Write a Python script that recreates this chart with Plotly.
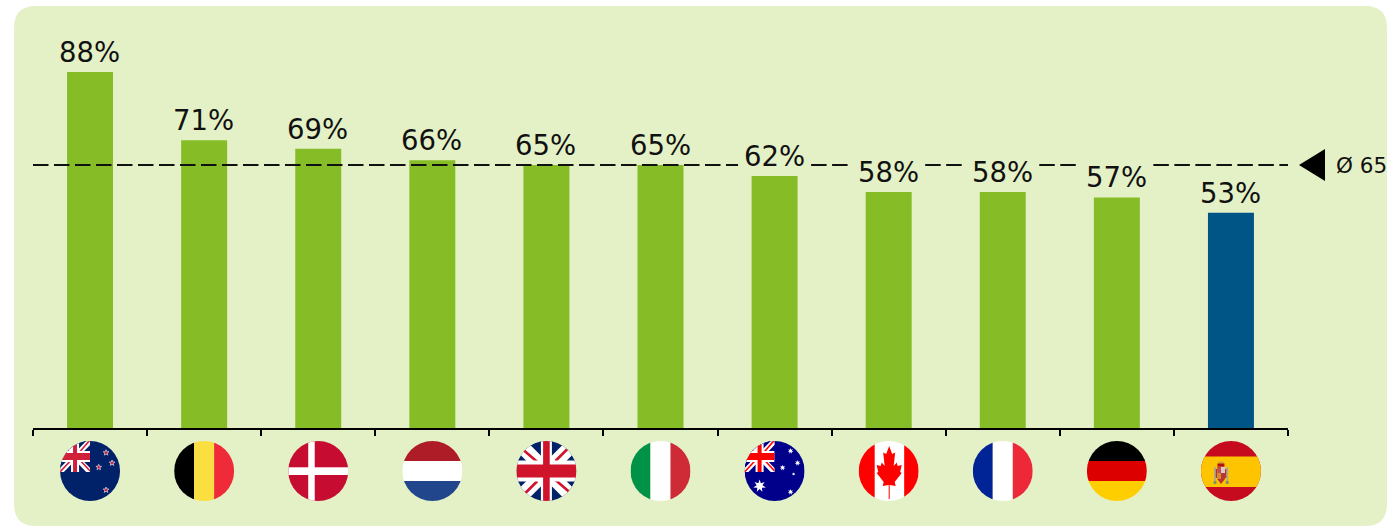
import base64
import math
import plotly.graph_objects as go

countries = ["New Zealand", "Belgium", "Denmark", "Netherlands", "United Kingdom", "Italy",
             "Australia", "Canada", "France", "Germany", "Spain"]
values = [88, 71.1, 69, 66.2, 65, 65, 62.3, 58.3, 58.3, 57, 53.2]
average = 65
average_label = "Ø 65"
highlight = "Spain"

W, H = 1387, 526
L, R, T, B = 33, 99, 6, 98
PLOT_W, PLOT_H = W - L - R, H - T - B
YMAX = 104.3
PANEL = "#E4F1C7"
GREEN = "#86BC25"
BLUE = "#005587"


def px(x):
    return (x - L) / PLOT_W


def py(y):
    return 1 - (y - T) / PLOT_H


def panel_path():
    x0, x1, y0, y1, r = px(14), px(1387), py(6), py(526), 22
    rx, ry = r / PLOT_W, r / PLOT_H
    return (f"M{x0+rx},{y0} L{x1-rx},{y0} Q{x1},{y0} {x1},{y0-ry} L{x1},{y1+ry} Q{x1},{y1} {x1-rx},{y1} "
            f"L{x0+rx},{y1} Q{x0},{y1} {x0},{y1+ry} L{x0},{y0-ry} Q{x0},{y0} {x0+rx},{y0} Z")


def star(cx, cy, r, fill, n=5, inner=0.42, stroke=None):
    pts = []
    for k in range(2 * n):
        a = -math.pi / 2 + k * math.pi / n
        q = r if k % 2 == 0 else r * inner
        pts.append(f"{cx + q * math.cos(a):.2f},{cy + q * math.sin(a):.2f}")
    s = f' stroke="{stroke}" stroke-width="0.7"' if stroke else ""
    return f'<polygon points="{" ".join(pts)}" fill="{fill}"{s}/>'


def vbands(a, b, c):
    return (f'<rect x="0" y="0" width="20" height="60" fill="{a}"/><rect x="20" y="0" width="20" height="60" fill="{b}"/>'
            f'<rect x="40" y="0" width="20" height="60" fill="{c}"/>')


def hbands(a, b, c):
    return (f'<rect x="0" y="0" width="60" height="20" fill="{a}"/><rect x="0" y="20" width="60" height="20" fill="{b}"/>'
            f'<rect x="0" y="40" width="60" height="20" fill="{c}"/>')


def union_jack():
    out = '<rect width="60" height="60" fill="#012169"/>'
    out += '<path d="M0,0L60,60M60,0L0,60" stroke="#fff" stroke-width="14"/>'
    out += '<path d="M7,9L21,21M39,39L53,51M39,20L52,7M8,53L21,40" stroke="#CF142B" stroke-width="2.6"/>'
    out += '<rect x="24.5" width="11" height="60" fill="#fff"/><rect y="19.5" width="60" height="21" fill="#fff"/>'
    out += '<rect x="26.7" width="6.6" height="60" fill="#CF142B"/><rect y="23.5" width="60" height="13" fill="#CF142B"/>'
    return out


def canton(blue, red, cid):
    out = f'<clipPath id="{cid}"><rect x="0" y="0" width="30" height="31"/></clipPath><g clip-path="url(#{cid})">'
    out += f'<rect x="0" y="0" width="30" height="31" fill="{blue}"/>'
    out += '<path d="M0,0L30,31M30,0L0,31" stroke="#fff" stroke-width="5.5"/>'
    out += f'<path d="M0,1.5L13,15M17,14L30,-1M30,30L17,16M13,17L-1,32" stroke="{red}" stroke-width="1.6"/>'
    out += '<rect x="11" y="0" width="8" height="31" fill="#fff"/><rect x="0" y="10" width="30" height="11" fill="#fff"/>'
    out += f'<rect x="13" y="0" width="4" height="31" fill="{red}"/><rect x="0" y="12" width="30" height="7" fill="{red}"/>'
    return out + "</g>"


right_leaf = [(30.5, 5), (33.5, 13), (36.5, 11.5), (35, 25), (38, 21.5), (39, 25), (43, 24), (41.5, 31), (43, 32),
              (36, 41), (37, 45), (31, 44), (31, 58)]
leaf = right_leaf + [(61 - x, y) for x, y in reversed(right_leaf)]
leaf_pts = " ".join(f"{x},{y}" for x, y in leaf)

spain_arms = (
    '<rect x="17.5" y="20.5" width="5" height="2.2" fill="#C8A63C"/><rect x="16.5" y="22.5" width="7" height="3.2" fill="#AD1519"/>'
    '<rect x="13" y="26" width="1.8" height="14" fill="#A9A89A"/><rect x="25.5" y="26" width="1.8" height="14" fill="#A9A89A"/>'
    '<rect x="14.8" y="28" width="1.4" height="9" fill="#B8342F"/><rect x="24" y="28" width="1.4" height="9" fill="#B8342F"/>'
    '<rect x="12.7" y="40" width="2.8" height="3" fill="#7F9060"/><rect x="24.8" y="40" width="2.8" height="3" fill="#7F9060"/>'
    '<rect x="16.2" y="26" width="3.9" height="6" fill="#C0504A"/><rect x="20.1" y="26" width="3.9" height="6" fill="#D9C8D4"/>'
    '<rect x="16.2" y="32" width="3.9" height="6" fill="#D08A3A"/><rect x="20.1" y="32" width="3.9" height="6" fill="#B8342F"/>'
    '<path d="M16.2,38L24,38L20.1,43Z" fill="#B8342F"/>'
)

flags = {
    "New Zealand": '<rect width="60" height="60" fill="#012169"/>' + canton("#012169", "#D0203A", "nz")
    + "".join(star(x, y, 3, "#CC142B", stroke="#dfe3f2") for x, y in [(46, 11.7), (52, 22), (38.7, 26.3), (46, 49)]),
    "Belgium": vbands("#000000", "#FBDE40", "#EF2B39"),
    "Denmark": '<rect width="60" height="60" fill="#C60C30"/><rect x="20" width="6.5" height="60" fill="#fff"/>'
    '<rect y="26.3" width="60" height="7.7" fill="#fff"/>',
    "Netherlands": hbands("#AE1C28", "#FFFFFF", "#21468B"),
    "United Kingdom": union_jack(),
    "Italy": vbands("#009246", "#FFFFFF", "#CE2B37"),
    "Australia": '<rect width="60" height="60" fill="#00008B"/>' + canton("#00008B", "#FF0000", "au")
    + star(15, 45, 6.5, "#fff", n=7, inner=0.45)
    + "".join(star(x, y, r, "#fff", n=7, inner=0.45) for x, y, r in [(46, 10, 3), (53, 22, 3), (38, 26.7, 3), (49, 33, 1.8), (46, 51, 3)]),
    "Canada": '<rect width="60" height="60" fill="#fff"/><rect width="16" height="60" fill="#FF0000"/>'
    '<rect x="45.5" width="14.5" height="60" fill="#FF0000"/>'
    f'<polygon points="{leaf_pts}" fill="#FF0000"/>',
    "France": vbands("#002395", "#FFFFFF", "#ED2939"),
    "Germany": hbands("#000000", "#DD0000", "#FFCE00"),
    "Spain": '<rect width="60" height="60" fill="#C60B1E"/><rect y="15.5" width="60" height="30.5" fill="#FFC400"/>' + spain_arms,
}


def flag_uri(name):
    svg = ('<svg xmlns="http://www.w3.org/2000/svg" width="240" height="240" viewBox="0 0 60 60">'
           '<defs><clipPath id="c"><circle cx="30" cy="30" r="30"/></clipPath></defs>'
           f'<g clip-path="url(#c)">{flags[name]}</g></svg>')
    return "data:image/svg+xml;base64," + base64.b64encode(svg.encode()).decode()


n = len(countries)
colors = [BLUE if c == highlight else GREEN for c in countries]

fig = go.Figure(go.Bar(x=countries, y=values, marker=dict(color=colors, line=dict(width=0)), width=0.403,
                       hoverinfo="skip"))

shapes = [dict(type="path", xref="paper", yref="paper", path=panel_path(), fillcolor=PANEL, line=dict(width=0), layer="below")]

# The average line is broken wherever a value label sits on it; each piece restarts its dash pattern.
GAP = 0.32
start = 0.0
pieces = []
for i, v in enumerate(values):
    if v + 0.5 < average < v + 9:
        pieces.append((start, (i + 0.5 - GAP) / n))
        start = (i + 0.5 + GAP) / n
pieces.append((start, 1.0))
for a, b in pieces:
    shapes.append(dict(type="line", xref="paper", yref="y", x0=a, x1=b, y0=average, y1=average,
                       line=dict(color="#111111", width=2, dash="15.5px,5.5px"), layer="above"))

shapes.append(dict(type="path", xref="paper", xsizemode="pixel", xanchor=1, yref="y", ysizemode="pixel", yanchor=average,
                   path="M11,0 L37,16 L37,-16 Z", fillcolor="#000000", line=dict(width=0), layer="above"))

annotations = [dict(x=c, y=v, xref="x", yref="y", text=f"{round(v)}%", showarrow=False, yanchor="bottom", xanchor="center",
                    yshift=2, xshift=-0.5, font=dict(family="DejaVu Sans", size=27.5, color="#111111"))
               for c, v in zip(countries, values)]
annotations.append(dict(x=px(1336), y=average, xref="paper", yref="y", text=average_label, showarrow=False,
                        xanchor="left", yanchor="middle", xshift=-2,
                        font=dict(family="DejaVu Sans", size=21.5, color="#111111")))

images = [dict(source=flag_uri(c), xref="paper", yref="paper", x=(i + 0.5) / n, y=py(471), xanchor="center",
               yanchor="middle", sizex=60 / PLOT_W, sizey=60 / PLOT_H, sizing="contain", layer="above")
          for i, c in enumerate(countries)]

fig.update_layout(
    width=W, height=H, margin=dict(l=L, r=R, t=T, b=B, pad=0, autoexpand=False),
    paper_bgcolor="white", plot_bgcolor="rgba(0,0,0,0)", showlegend=False,
    shapes=shapes, annotations=annotations, images=images,
    xaxis=dict(type="category", categoryorder="array", categoryarray=countries, range=[-0.5, n - 0.5],
               showgrid=False, zeroline=False, showline=True, linecolor="#000000", linewidth=2,
               ticks="outside", tickson="boundaries", ticklen=6, tickwidth=1.5, tickcolor="#000000",
               showticklabels=False, fixedrange=True),
    yaxis=dict(range=[0, YMAX], visible=False, fixedrange=True),
)

fig.write_html("out.html", config={"displayModeBar": False},
               post_script="document.body.style.margin='0';document.body.style.overflow='hidden';")
